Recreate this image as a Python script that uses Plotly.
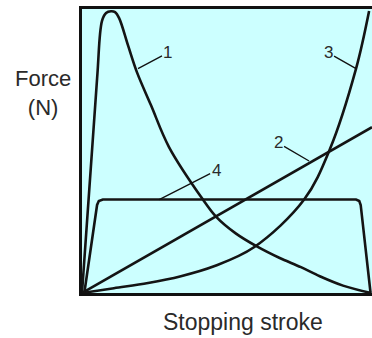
import plotly.graph_objects as go

# curve 1 - sharp peak then decay
c1_x = [0, 5.2, 6.9, 8.3, 10.0, 11.4, 12.8, 15.9, 19.0, 23.8, 30.0, 41.7, 46.2, 53.0, 60.3, 68.0, 75.5, 82.0, 90.0, 99.7]
c1_y = [0, 75.5, 95.8, 98.6, 99.2, 98.9, 96.8, 87.1, 77.6, 66.1, 51.4, 32.9, 26.9, 21.0, 16.4, 12.4, 9.1, 5.9, 2.6, 0]

# curve 2 - straight line
c2_x = [0, 100]
c2_y = [0, 58.4]

# curve 3 - rising curve
c3_x = [0, 11.0, 22.8, 34.1, 45.5, 59.3, 76.6, 85.5, 94.5, 99.0]
c3_y = [0, 1.7, 3.5, 5.9, 9.4, 16.1, 32.9, 50.7, 79.0, 99.3]

# curve 4 - trapezoid
c4_x = [0.8, 5.2, 5.8, 7.2, 94.5, 95.6, 96.1, 99.5]
c4_y = [0, 31.0, 32.4, 32.9, 32.9, 32.4, 31.0, 0]

labels = ['1', '2', '3', '4']
label_pts = [(19.3, 79.0), (78.3, 46.5), (94.5, 79.0), (26.6, 32.9)]
label_offsets = [(30, -16), (-31, -18), (-28, -16), (57, -29)]

line_col = '#141414'
fig = go.Figure()
for xs, ys, shape in [(c1_x, c1_y, 'spline'), (c2_x, c2_y, 'linear'),
                      (c3_x, c3_y, 'spline'), (c4_x, c4_y, 'linear')]:
    fig.add_trace(go.Scatter(x=xs, y=ys, mode='lines', line_shape=shape,
                             line=dict(color=line_col, width=2.6), hoverinfo='skip'))

for lab, (px, py), (ax, ay) in zip(labels, label_pts, label_offsets):
    fig.add_annotation(x=px, y=py, text=lab, showarrow=True, arrowhead=0,
                       arrowwidth=1.3, arrowcolor='#111', ax=ax, ay=ay,
                       font=dict(size=17, color='#2a2a2a', family='Liberation Sans'))

# axis titles, placed relative to the plot area
fig.add_annotation(x=-39 / 290, y=(293 - 93) / 284, xref='paper', yref='paper',
                   text='Force<br>(N)', showarrow=False, align='center',
                   xanchor='center', yanchor='middle',
                   font=dict(size=22, color='#2a2a2a', family='Liberation Sans'))
fig.add_annotation(x=(243 - 82) / 290, y=-(322 - 293) / 284, xref='paper', yref='paper',
                   text='Stopping stroke', showarrow=False,
                   xanchor='center', yanchor='middle',
                   font=dict(size=23, color='#2a2a2a', family='Liberation Sans'))

fig.update_xaxes(range=[0, 100], showgrid=False, zeroline=False, showticklabels=False,
                 ticks='', showline=True, linecolor='#111', linewidth=3, mirror=True)
fig.update_yaxes(range=[0, 100], showgrid=False, zeroline=False, showticklabels=False,
                 ticks='', showline=True, linecolor='#111', linewidth=3)
fig.update_layout(width=372, height=338, margin=dict(l=82, r=0, t=9, b=45),
                  plot_bgcolor='#CCFFFF', paper_bgcolor='white', showlegend=False)
# drop the default 8px body margin so the figure fills the window
fig.write_html('out.html', config={'displayModeBar': False},
               post_script="document.body.style.margin='0';"
               "document.body.style.overflow='hidden';")
